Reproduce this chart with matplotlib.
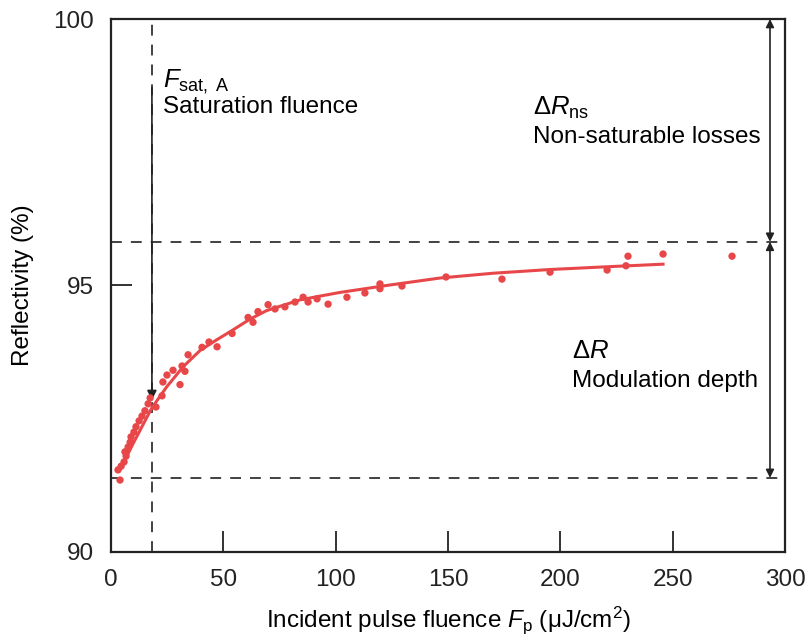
import matplotlib
matplotlib.use('Agg')
import matplotlib.pyplot as plt

plt.rcParams['font.family'] = ['Liberation Sans', 'DejaVu Sans']
plt.rcParams['mathtext.fontset'] = 'custom'
plt.rcParams['mathtext.rm'] = 'Liberation Sans'
plt.rcParams['mathtext.it'] = 'Liberation Sans:italic'

# measured points (fluence in uJ/cm2, reflectivity in %)
fluence = [4.0, 3.1, 4.5, 5.8, 6.7, 6.2, 7.6, 8.5, 8.9, 10.2, 11.1, 12.5, 13.8,
           15.1, 16.5, 17.4, 20.0, 22.7, 23.1, 24.9, 27.6, 30.7, 31.6, 32.9,
           34.3, 40.5, 43.6, 47.2, 53.9, 61.0, 63.2, 65.4, 69.9, 73.0, 77.4,
           81.9, 85.5, 87.7, 91.7, 96.6, 105.0, 113.0, 119.7, 119.7, 129.5,
           149.1, 174.0, 195.4, 220.8, 229.2, 230.1, 245.7, 276.4]
reflect = [91.35, 91.54, 91.61, 91.69, 91.80, 91.88, 91.97, 92.06, 92.16,
           92.25, 92.35, 92.46, 92.55, 92.65, 92.78, 92.89, 92.72, 92.93,
           93.19, 93.32, 93.41, 93.14, 93.49, 93.39, 93.70, 93.84, 93.94,
           93.85, 94.10, 94.40, 94.31, 94.51, 94.64, 94.56, 94.60, 94.69,
           94.78, 94.69, 94.75, 94.65, 94.78, 94.86, 95.03, 94.94, 94.99,
           95.16, 95.12, 95.25, 95.29, 95.37, 95.55, 95.59, 95.55]

# fitted curve
fit_x = [4.0, 9.9, 18.1, 24.8, 32.2, 39.6, 47.0, 54.4, 61.9, 69.3, 76.7,
         84.1, 91.6, 101.9, 124.2, 146.4, 170.0, 195.4, 220.0, 245.7]
fit_y = [91.54, 92.04, 92.70, 93.10, 93.48, 93.78, 93.98, 94.17, 94.37,
         94.53, 94.63, 94.73, 94.79, 94.87, 95.01, 95.14, 95.23, 95.30,
         95.35, 95.40]

f_sat = 18.2
r_top = 95.82
r_low = 91.39
x_arrow = 293.3

red = '#e8474a'
dash_col = '#333333'

fig = plt.figure(figsize=(8.11, 6.42), dpi=100)
ax = fig.add_axes([0.1369, 0.1402, 0.8311, 0.8302])

ax.plot(fit_x, fit_y, color=red, lw=2.2, zorder=3)
ax.scatter(fluence, reflect, s=28, color=red, edgecolors='none', zorder=4)

ax.axhline(r_top, color=dash_col, lw=1.3, ls=(0, (6, 5)), zorder=1)
ax.axhline(r_low, color=dash_col, lw=1.3, ls=(0, (6, 5)), zorder=1)
ax.plot([f_sat, f_sat], [90, 99.9], color=dash_col, lw=1.3, ls=(0, (6, 5)),
        zorder=1)

ax.annotate('', xy=(f_sat, 92.85), xytext=(f_sat, 98.71),
            arrowprops=dict(arrowstyle='-|>', color='#222222', lw=1.2,
                            mutation_scale=14, shrinkA=0, shrinkB=0))
ax.annotate('', xy=(x_arrow, 100), xytext=(x_arrow, r_top),
            arrowprops=dict(arrowstyle='<|-|>', color='#222222', lw=1.2,
                            mutation_scale=12, shrinkA=0, shrinkB=0))
ax.annotate('', xy=(x_arrow, r_top), xytext=(x_arrow, r_low),
            arrowprops=dict(arrowstyle='<|-|>', color='#222222', lw=1.2,
                            mutation_scale=12, shrinkA=0, shrinkB=0))

fs = 17.5
ax.text(23.1, 98.82, r'$\mathit{F}_{\mathrm{sat,\ A}}$', fontsize=fs + 1,
        va='center', ha='left')
ax.text(23.1, 98.35, 'Saturation fluence', fontsize=fs, va='center',
        ha='left')
ax.text(187.8, 98.33, r'$\Delta\mathit{R}_{\mathrm{ns}}$', fontsize=fs + 1,
        va='center', ha='left')
ax.text(187.8, 97.79, 'Non-saturable losses', fontsize=fs, va='center',
        ha='left')
ax.text(205.2, 93.77, r'$\Delta\mathit{R}$', fontsize=fs + 1, va='center',
        ha='left')
ax.text(205.2, 93.21, 'Modulation depth', fontsize=fs, va='center',
        ha='left')

ax.set_xlim(0, 300)
ax.set_ylim(90, 100)
ax.set_xticks([0, 50, 100, 150, 200, 250, 300])
ax.set_yticks([90, 95, 100])
ax.tick_params(direction='in', length=15, width=1.3, labelsize=fs,
               colors='#222222')
ax.tick_params(axis='x', pad=12)
ax.tick_params(axis='y', pad=12)
for s in ax.spines.values():
    s.set_linewidth(1.6)
    s.set_color('#222222')

ax.set_ylabel('Reflectivity (%)', fontsize=fs, labelpad=14)
ax.set_xlabel(r'Incident pulse fluence $\mathit{F}_{\mathrm{p}}$ (μJ/cm$^2$)',
              fontsize=fs, labelpad=10)

plt.savefig('out.png', dpi=100)
